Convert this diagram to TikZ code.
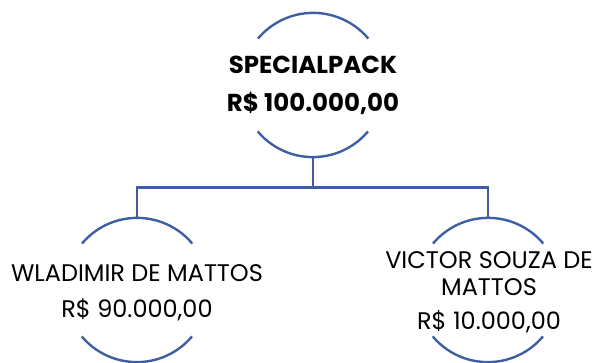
\documentclass[tikz,border=0pt]{standalone}
\usepackage{fontspec}
\setmainfont{Poppins}
\definecolor{lineblue}{HTML}{3E5FA2}
\begin{document}
\begin{tikzpicture}[x=1pt,y=1pt,
  ring/.style={circle,minimum size=144pt,inner sep=0pt},
  conn/.style={draw=lineblue,line width=2.6pt},
  arcline/.style={draw=lineblue,line width=2.4pt},
  label/.style={inner sep=0pt,font=\fontsize{24}{28}\selectfont,text=black},
  blabel/.style={label,font=\fontsize{24.5}{28}\selectfont\bfseries}]
\useasboundingbox (0,0) rectangle (595,363);
% circles (invisible) for node geometry
\node[ring] (top) at (313,278) {};
\node[ring] (left) at (137,73) {};
\node[ring] (right) at (488,73) {};
% arcs
\foreach \n in {top,left,right}{
  \draw[arcline] (\n.40) arc[start angle=40,end angle=140,radius=72pt];
  \draw[arcline] (\n.220) arc[start angle=220,end angle=320,radius=72pt];
}
% texts
\node[blabel] (t1) at (313,298) {SPECIALPACK};
\node[blabel] (t2) at (313,260) {R\$ 100.000,00};
\node[label] (l1) at (137,90) {WLADIMIR DE MATTOS};
\node[label] (l2) at (137,53) {R\$ 90.000,00};
\node[label] (r1) at (489,103) {VICTOR SOUZA DE};
\node[label] (r2) at (489,76) {MATTOS};
\node[label] (r3) at (489,41) {R\$ 10.000,00};
% connectors
\coordinate (branch) at (313,175.5);
\draw[conn] (top.south) -- (branch);
\draw[conn] (branch) -| (left.north);
\draw[conn] (branch) -| (right.north);
\end{tikzpicture}
\end{document}
